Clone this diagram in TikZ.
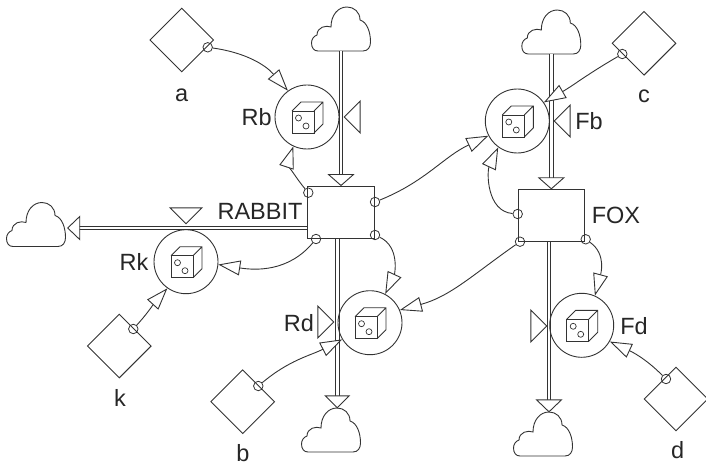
\documentclass[tikz,border=0pt]{standalone}
\usepackage{fontspec}
\setmainfont{Liberation Sans}
\usetikzlibrary{shapes.geometric,arrows.meta}
\definecolor{inkgray}{gray}{0.2}
\tikzset{
  stock/.style={draw=inkgray,line width=1pt,minimum width=66.5pt,minimum height=52pt,inner sep=0pt},
  const/.style={diamond,draw=inkgray,line width=0.9pt,minimum width=64pt,minimum height=64pt,inner sep=0pt},
  conv/.style={circle,draw=inkgray,line width=0.9pt,minimum size=64pt,inner sep=0pt},
  tap/.style={circle,draw=inkgray,line width=0.8pt,minimum size=9.5pt,inner sep=0pt},
  valve/.style={isosceles triangle,isosceles triangle stretches,draw=inkgray,line width=0.9pt,
    minimum width=32pt,minimum height=16pt,inner sep=0pt,anchor=apex},
  lbl/.style={font=\fontsize{23.5}{24}\selectfont,text=black!85,inner sep=0pt},
  link/.style={draw=inkgray,line width=0.9pt,-{Triangle[open,length=22pt,width=15pt,fill=white]}},
  pipe/.style={draw=inkgray,line width=1.1pt,double=white,double distance=2.6pt},
  pipetip/.style={draw=inkgray,line width=0.9pt,fill=white},
  cloudicon/.pic={
    \node[minimum width=59pt,minimum height=44pt,inner sep=0pt] (-box) at (0,0) {};
    \draw[draw=inkgray,line width=0.9pt] (-23,22) -- (22,22)
      .. controls (27,22) and (29.5,18) .. (29.5,13)
      .. controls (29.5,3) and (26,-7) .. (19,-9)
      .. controls (19,-17) and (13,-22) .. (6,-22)
      .. controls (-3,-22) and (-10,-14) .. (-10,-2)
      .. controls (-15,-4) and (-24,-2) .. (-24,6)
      .. controls (-27,7) and (-29.5,10) .. (-29.5,14)
      .. controls (-29.5,19) and (-27,22) .. (-23,22) -- cycle;
  },
  diceicon/.pic={
    \draw[draw=inkgray,line width=0.9pt] (-15,-6) rectangle (7,16);
    \draw[draw=inkgray,line width=0.9pt] (-15,-6) -- (-6,-15) -- (16,-15) -- (16,7) -- (7,16)
      (7,-6) -- (16,-15);
    \draw[draw=inkgray,line width=0.7pt] (-8.5,1) circle (3) (-1,9) circle (3);
  },
}
\begin{document}
\begin{tikzpicture}[x=1pt,y=-1pt]
\useasboundingbox (0,0) rectangle (706,465);

% clouds
\pic (cloudRin) at (341,29) {cloudicon};
\pic (cloudRk) at (36,224.5) {cloudicon};
\pic (cloudRd) at (331,430) {cloudicon};
\pic (cloudFin) at (551.3,32) {cloudicon};
\pic (cloudFd) at (543,434) {cloudicon};

% levels
\node[stock] (rabbit) at (341,212) {};
\node[stock] (fox) at (551.3,215.3) {};

% flows
\draw[pipe] (cloudRin-box.south) -- ([yshift=6pt]rabbit.north);
\draw[pipetip] ([xshift=-12.5pt,yshift=11pt]rabbit.north) -- ([xshift=12.5pt,yshift=11pt]rabbit.north) -- (rabbit.north) -- cycle;
\draw[pipe] ([yshift=-16pt]rabbit.west) -- ([yshift=-16pt,xshift=12pt]rabbit.west -| cloudRk-box.east);
\draw[pipetip] ([yshift=-16pt,xshift=14pt]rabbit.west -| cloudRk-box.east) -- ++(0,-11.5) -- ++(-12,11.5) -- ++(12,11.5) -- cycle;
\draw[pipe] ([xshift=-3.7pt]rabbit.south) -- ([xshift=-3.7pt,yshift=11pt]rabbit.south |- cloudRd-box.north);
\draw[pipetip] ([xshift=-3.7pt,yshift=12pt]rabbit.south |- cloudRd-box.north) -- ++(-12,0) -- ++(12,12) -- ++(12,-12) -- cycle;
\draw[pipe] (cloudFin-box.south) -- ([yshift=6pt]fox.north);
\draw[pipetip] ([xshift=-12.5pt,yshift=11pt]fox.north) -- ([xshift=12.5pt,yshift=11pt]fox.north) -- (fox.north) -- cycle;
\draw[pipe] ([xshift=-2.3pt]fox.south) -- ([xshift=-2.3pt,yshift=11pt]fox.south |- cloudFd-box.north);
\draw[pipetip] ([xshift=-2.3pt,yshift=12pt]fox.south |- cloudFd-box.north) -- ++(-12.5,0) -- ++(12.5,12) -- ++(12.5,-12) -- cycle;

% valves
\node[valve,shape border rotate=180] (valveRb) at (343,117) {};
\node[valve,shape border rotate=-90] (valveRk) at (186,225) {};
\node[valve] (valveRd) at (335,322) {};
\node[valve,shape border rotate=180] (valveFb) at (553,121) {};
\node[valve] (valveFd) at (548,326) {};

% converters
\node[conv] (convRb) at (307,117) {};
\node[conv] (convRk) at (186,261.7) {};
\node[conv] (convRd) at (370,322.7) {};
\node[conv] (convFb) at (517.3,121) {};
\node[conv] (convFd) at (581.7,325.3) {};
\pic at (convRb) {diceicon};
\pic at (convRk) {diceicon};
\pic at (convRd) {diceicon};
\pic at (convFb) {diceicon};
\pic at (convFd) {diceicon};

% constants
\node[const] (consta) at (181.7,40) {};
\node[const] (constk) at (119.3,346) {};
\node[const] (constb) at (242.7,401.7) {};
\node[const] (constc) at (644,43.3) {};
\node[const] (constd) at (676,399) {};

% taps
\node[tap] (tapa) at (207.7,47.3) {};
\node[tap] (tapk) at (133.3,329) {};
\node[tap] (tapb) at (258.3,386) {};
\node[tap] (tapc) at (622.3,54) {};
\node[tap] (tapd) at (666,379) {};
\node[tap] (tapRtl) at (308.3,192.7) {};
\node[tap] (tapRtr) at (375,202) {};
\node[tap] (tapRbl) at (316,239) {};
\node[tap] (tapRbr) at (375,235) {};
\node[tap] (tapFl) at (517.7,214) {};
\node[tap] (tapFbl) at (520,241.7) {};
\node[tap] (tapFbr) at (585.7,239.3) {};

% links
\draw[link] (tapa) to[out=-8,in=131] (convRb.126);
\draw[link] (tapRtl) to[out=130,in=-108] (convRb.245);
\draw[link] (tapRbl) to[out=-130,in=-9] (convRk.-5);
\draw[link] (tapk) to[out=48,in=228] (convRk.235);
\draw[link] (tapb) to[out=40,in=207] (convRd.211);
\draw[link] (tapRbr) to[out=-25,in=65] (convRd.62);
\draw[link] (tapFbl) to[out=-145,in=15] (convRd.23);
\draw[link] (tapFbr) to[out=-35,in=75] (convFd.66);
\draw[link] (tapd) to[out=135,in=-25] (convFd.-30);
\draw[link] (tapFl) to[out=175,in=-115] (convFb.234);
\draw[link] (tapRtr) to[out=22,in=205] (convFb.207);
\draw[link] (tapc) to[out=210,in=30] (convFb.35);

% labels
\node[lbl] (lblRabbit) at (260,211.7) {RABBIT};
\node[lbl] (lblFox) at (616,215) {FOX};
\node[lbl] (lblRb) at (256.7,117) {Rb};
\node[lbl] (lblRk) at (134,261.7) {Rk};
\node[lbl] (lblRd) at (299,323) {Rd};
\node[lbl] (lblFb) at (589,120.7) {Fb};
\node[lbl] (lblFd) at (634,326) {Fd};
\node[lbl] (lbla) at (181.7,95) {a};
\node[lbl] (lblk) at (120,398) {k};
\node[lbl] (lblb) at (243,453) {b};
\node[lbl] (lblc) at (644,96) {c};
\node[lbl] (lbld) at (677.7,450) {d};
\end{tikzpicture}
\end{document}
